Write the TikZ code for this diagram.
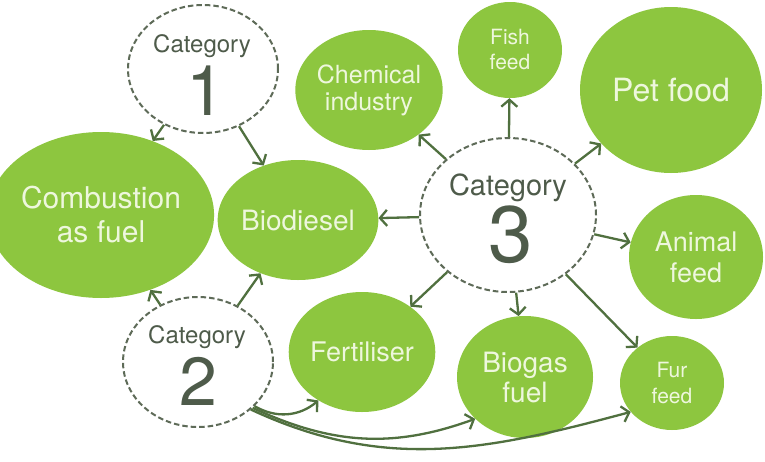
\documentclass[tikz,border=0pt]{standalone}
\usepackage{fontspec}
\setmainfont{TeX Gyre Heros}
\usetikzlibrary{shapes.geometric,arrows.meta}
\definecolor{leaf}{HTML}{8DC63F}
\definecolor{leaflight}{HTML}{A4D35A}
\definecolor{arr}{HTML}{50703F}
\definecolor{dashc}{HTML}{5E6B58}
\definecolor{cattxt}{HTML}{4E5B4A}
\definecolor{pale}{HTML}{EEF7DD}
\begin{document}
\begin{tikzpicture}[x=1pt,y=-1pt,
 blob/.style={ellipse, inner sep=0pt, fill=leaf, text=pale, align=center},
 catbox/.style={ellipse, inner sep=0pt, draw=dashc, dash pattern=on 5.5pt off 3pt, line width=2pt, fill=white},
 flow/.style={draw=arr, line width=2.3pt, -{Straight Barb[length=7pt,width=16pt,line width=2.3pt]}},
 cattext/.style={text=cattxt, anchor=base, inner sep=0pt}
]
\useasboundingbox[fill=white] (0,0) rectangle (765,461);

% green result nodes
\node[blob, minimum width=192pt, minimum height=166pt, font=\fontsize{30}{34}\selectfont] (comb) at (101,215) {Combustion\\as fuel};
\node[blob, minimum width=136pt, minimum height=120pt, font=\fontsize{28}{32}\selectfont] (bio) at (298,220) {Biodiesel};
\node[blob, minimum width=136pt, minimum height=120pt, font=\fontsize{25}{27}\selectfont] (chem) at (369,90) {Chemical\\industry};
\node[blob, minimum width=104pt, minimum height=96pt, font=\fontsize{21}{25}\selectfont] (fish) at (510,50) {Fish\\feed};
\node[blob, minimum width=182pt, minimum height=166pt, font=\fontsize{32}{36}\selectfont] (pet) at (671,90) {Pet food};
\node[blob, minimum width=134pt, minimum height=124pt, font=\fontsize{27}{31}\selectfont] (animal) at (696,257) {Animal\\feed};
\node[blob, minimum width=136pt, minimum height=120pt, font=\fontsize{27}{31}\selectfont] (fert) at (362,352) {Fertiliser};
\node[blob, minimum width=136pt, minimum height=122pt, font=\fontsize{28}{30}\selectfont] (biogas) at (525,377) {Biogas\\fuel};
\node[blob, minimum width=104pt, minimum height=94pt, font=\fontsize{21}{26}\selectfont] (fur) at (672,383) {Fur\\feed};

% category nodes
\node[catbox, minimum width=150pt, minimum height=128pt] (cat1) at (203,69) {};
\node[catbox, minimum width=150pt, minimum height=130pt] (cat2) at (198,362) {};
\node[catbox, minimum width=176pt, minimum height=154pt] (cat3) at (508,215) {};

\node[cattext, font=\fontsize{24}{24}\selectfont] (cat1a) at (202,52) {Category};
\node[cattext, font=\fontsize{70}{70}\selectfont] (cat1b) at (206,115) {1};
\node[cattext, font=\fontsize{24}{24}\selectfont] (cat2a) at (197,343) {Category};
\node[cattext, font=\fontsize{68}{68}\selectfont] (cat2b) at (198,405) {2};
\node[cattext, font=\fontsize{29}{29}\selectfont] (cat3a) at (508,195) {Category};
\node[cattext, font=\fontsize{80}{80}\selectfont] (cat3b) at (511,262) {3};

% connectors
\draw[flow] (cat1) -- (comb);
\draw[flow] (cat1) -- (bio);
\draw[flow] (cat2) -- (comb);
\draw[flow] (cat2) -- (bio);
\draw[flow] (cat2.-38) to[out=-30,in=220] (fert.228);
\draw[flow] (cat2.-40) to[out=-25,in=200] (biogas.220);
\draw[flow] (cat2.-42) to[out=-25,in=195] (fur.215);
\draw[flow] (cat3) -- (chem);
\draw[flow] (cat3) -- (fish);
\draw[flow] (cat3) -- (pet);
\draw[flow] (cat3) -- (bio);
\draw[flow] (cat3) -- (animal);
\draw[flow] (cat3) -- (fert);
\draw[flow] (cat3) -- (biogas);
\draw[flow] (cat3) -- (fur);
\end{tikzpicture}
\end{document}
